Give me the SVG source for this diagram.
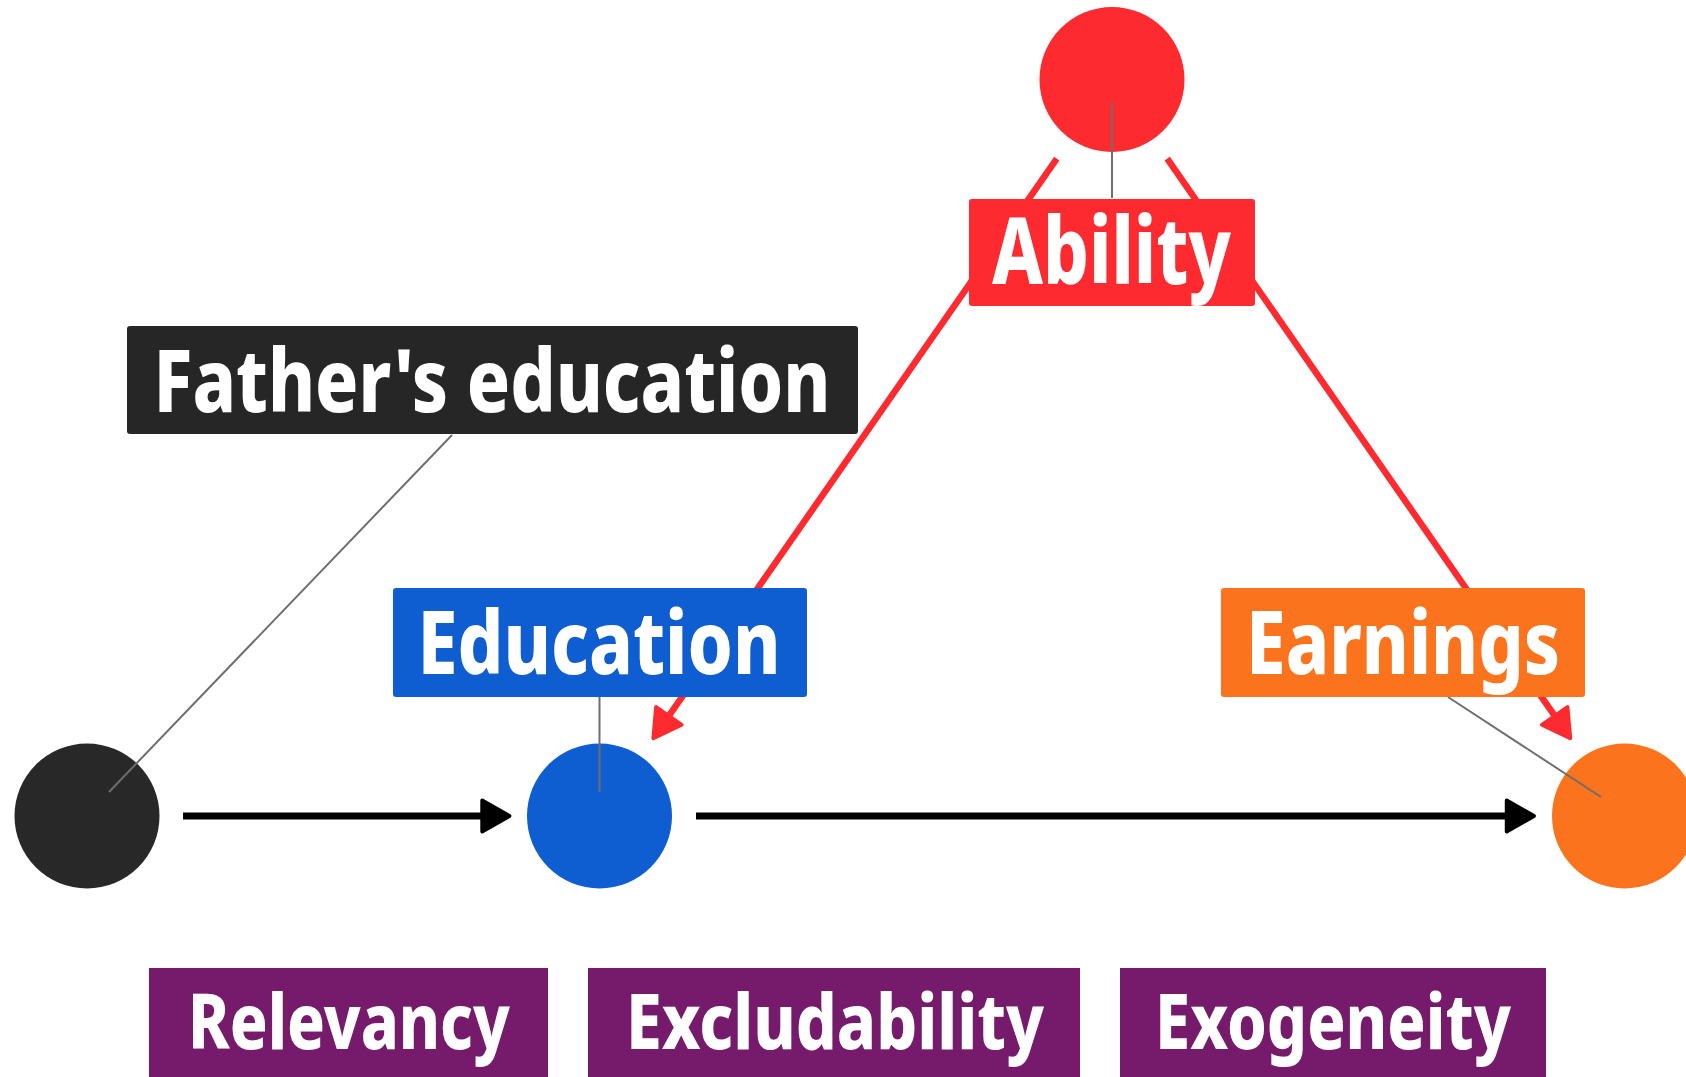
<svg xmlns="http://www.w3.org/2000/svg" width="1686" height="1077" viewBox="0 0 1686 1077">
<style>
.lbl{font-family:"Noto Sans","Liberation Sans",sans-serif;font-weight:800;fill:#ffffff;text-anchor:middle}
.lead{stroke:#6e6e6e;stroke-width:2;fill:none}
.red{stroke:#fd2a2f;stroke-width:6.5;fill:none}
.blk{stroke:#000000;stroke-width:7;fill:none}
</style>
<defs>
<marker id="arrBlack" markerUnits="userSpaceOnUse" markerWidth="40" markerHeight="40" viewBox="-2 -18 32 36" refX="4" refY="0" orient="auto">
<path d="M1.5,-14 L26,0 L1.5,14 Z" fill="#000000" stroke="#000000" stroke-width="3.5" stroke-linejoin="round"/>
</marker>
<marker id="arrRed" markerUnits="userSpaceOnUse" markerWidth="40" markerHeight="40" viewBox="-2 -18 32 36" refX="4" refY="0" orient="auto">
<path d="M1.5,-14 L26,0 L1.5,14 Z" fill="#fd2a2f" stroke="#fd2a2f" stroke-width="3.5" stroke-linejoin="round"/>
</marker>
</defs>
<rect width="1686" height="1077" fill="#ffffff"/>
<g id="connectors">
<line class="red" x1="1056.8" y1="158.7" x2="667.3" y2="718.2" marker-end="url(#arrRed)"/>
<line class="red" x1="1167.2" y1="158.7" x2="1556.3" y2="718.2" marker-end="url(#arrRed)"/>
<line class="blk" x1="183" y1="816" x2="485" y2="816" marker-end="url(#arrBlack)"/>
<line class="blk" x1="696" y1="816" x2="1509.5" y2="816" marker-end="url(#arrBlack)"/>
</g>
<g id="node-ability">
<circle cx="1112" cy="79.5" r="72.5" fill="#fd2a2f"/>
<line class="lead" x1="1112" y1="103" x2="1112" y2="198"/>
<rect x="969" y="199" width="286" height="107" rx="3" fill="#fd2a2f"/>
<text class="lbl" x="1111.5" y="284" font-size="92" textLength="239" lengthAdjust="spacingAndGlyphs">Ability</text>
</g>
<g id="node-fathers-education">
<circle cx="87" cy="816" r="72.5" fill="#282828"/>
<line class="lead" x1="452" y1="435" x2="109" y2="792"/>
<rect x="127" y="326" width="731" height="108" rx="3" fill="#262626"/>
<text class="lbl" x="492" y="411.7" font-size="87" textLength="677" lengthAdjust="spacingAndGlyphs">Father's education</text>
</g>
<g id="node-education">
<circle cx="599.5" cy="816" r="72.5" fill="#0e5dd1"/>
<line class="lead" x1="599.5" y1="697" x2="599.5" y2="792"/>
<rect x="393" y="588" width="414" height="109" rx="3" fill="#0e5dd1"/>
<text class="lbl" x="599" y="674" font-size="87" textLength="363" lengthAdjust="spacingAndGlyphs">Education</text>
</g>
<g id="node-earnings">
<circle cx="1624.5" cy="816" r="72.5" fill="#fb731c"/>
<line class="lead" x1="1448" y1="697" x2="1601" y2="797"/>
<rect x="1221" y="588" width="364" height="109" rx="3" fill="#fb731c"/>
<text class="lbl" x="1403" y="674" font-size="87" textLength="314" lengthAdjust="spacingAndGlyphs">Earnings</text>
</g>
<g id="node-relevancy">
<rect x="149" y="968" width="399" height="112" fill="#761b6b"/>
<text class="lbl" x="349" y="1049" font-size="77" textLength="322" lengthAdjust="spacingAndGlyphs">Relevancy</text>
</g>
<g id="node-excludability">
<rect x="588" y="968" width="492" height="112" fill="#761b6b"/>
<text class="lbl" x="835" y="1049" font-size="77" textLength="418" lengthAdjust="spacingAndGlyphs">Excludability</text>
</g>
<g id="node-exogeneity">
<rect x="1120" y="968" width="426" height="112" fill="#761b6b"/>
<text class="lbl" x="1333" y="1049" font-size="77" textLength="356" lengthAdjust="spacingAndGlyphs">Exogeneity</text>
</g>
</svg>
